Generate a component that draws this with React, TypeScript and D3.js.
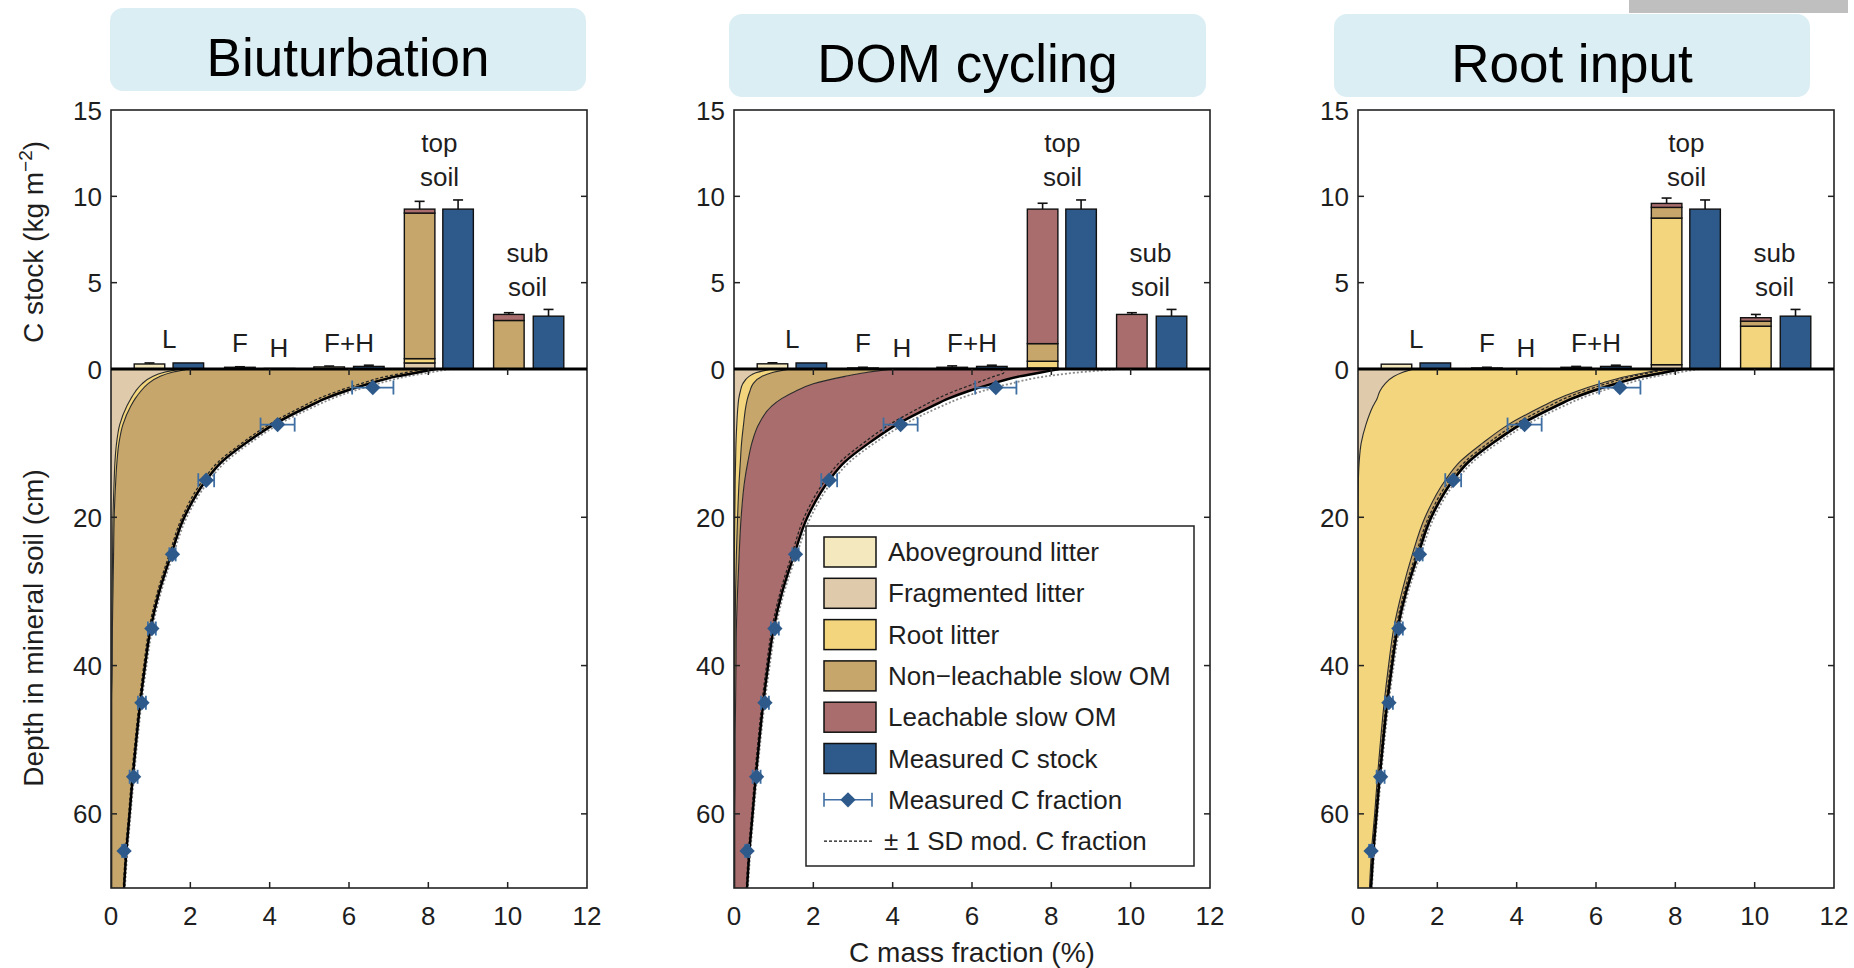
import * as d3 from 'd3'

const FONT = '"Liberation Sans", Arial, Helvetica, sans-serif'

// ---------- data ----------
const panelTitles = ['Biuturbation', 'DOM cycling', 'Root input']

const xTicks = [0, 2, 4, 6, 8, 10, 12]
const stockTicks = [0, 5, 10, 15]
const depthTicks = [20, 40, 60]

const layerNames = ['Aboveground litter', 'Fragmented litter', 'Root litter', 'Non\u2212leachable slow OM', 'Leachable slow OM']
const layerColors = ['#f4e9be', '#dfcbab', '#f2d57d', '#c6a66a', '#aa6d6d']
const measuredColor = '#2e5a8b'
const measuredErrColor = '#3f6fa3'

// bar groups (x positions in the C-mass-fraction axis units)
const barLabels = ['L', 'F', 'H', 'F+H', 'top\nsoil', 'sub\nsoil']
const barLabelX = [1.47, 3.25, 4.23, 6.0, 8.28, 10.5]
const barLabelY = [1.2, 1.0, 0.7, 1.0, 12.55, 6.2]
const modelBarX = [0.97, 3.25, 4.25, 5.5, 7.78, 10.03]
const measBarX = [1.95, NaN, NaN, 6.5, 8.75, 11.03]
const measStock = [0.35, NaN, NaN, 0.15, 9.26, 3.06]
const measStockErr = [0, NaN, NaN, 0.07, 0.53, 0.39]

// modelled stocks: [aboveground, fragmented, root, non-leachable, leachable]
const bioBars = [[0.29, 0, 0, 0, 0], [0, 0.1, 0, 0, 0], [0, 0.03, 0, 0, 0], [0, 0.12, 0, 0, 0], [0, 0.35, 0.25, 8.43, 0.23], [0, 0, 0, 2.81, 0.35]]
const bioBarErr = [0.06, 0.03, 0, 0.05, 0.45, 0.1]
const domBars = [[0.3, 0, 0, 0, 0], [0, 0.06, 0, 0, 0], [0, 0.02, 0, 0, 0], [0, 0.1, 0, 0, 0], [0, 0.06, 0.39, 1.02, 7.79], [0, 0, 0, 0, 3.16]]
const domBarErr = [0.06, 0.04, 0, 0.08, 0.34, 0.1]
const rootBars = [[0.28, 0, 0, 0, 0], [0, 0.06, 0, 0, 0], [0, 0.02, 0, 0, 0], [0, 0.1, 0, 0, 0], [0, 0.25, 8.49, 0.62, 0.23], [0, 0, 2.48, 0.29, 0.2]]
const rootBarErr = [0, 0.04, 0, 0.05, 0.31, 0.19]

// depth profiles (cm) of modelled C mass fraction (%) per pool
const depths = [0, 0.5, 1, 2, 3, 4, 5, 7.5, 10, 12.5, 15, 20, 25, 30, 35, 40, 45, 50, 55, 60, 65, 70]

const bioFrag = [1.75, 1.3, 1.05, 0.78, 0.62, 0.5, 0.4, 0.22, 0.14, 0.1, 0.08, 0.05, 0.04, 0.03, 0.02, 0.02, 0.01, 0.01, 0.01, 0.01, 0.01, 0.01]
const bioRoot = [0.22, 0.2, 0.18, 0.15, 0.13, 0.11, 0.1, 0.08, 0.06, 0.05, 0.04, 0.03, 0.025, 0.02, 0.015, 0.01, 0.01, 0.01, 0.01, 0.01, 0.01, 0.01]
const bioNonLeach = [6.15, 6.13, 5.91, 5.52, 5.1, 4.75, 4.46, 3.77, 3.17, 2.63, 2.26, 1.75, 1.445, 1.16, 0.955, 0.82, 0.71, 0.61, 0.52, 0.44, 0.36, 0.3]
const bioLeach = [0.08, 0.07, 0.06, 0.05, 0.05, 0.04, 0.04, 0.03, 0.03, 0.02, 0.02, 0.02, 0.01, 0.01, 0.01, 0.01, 0.01, 0.01, 0.01, 0.01, 0.01, 0.01]
const bioSd = [0.35, 0.3, 0.26, 0.22, 0.19, 0.17, 0.15, 0.12, 0.1, 0.09, 0.08, 0.06, 0.05, 0.045, 0.04, 0.035, 0.03, 0.03, 0.03, 0.025, 0.025, 0.02]

const domFrag = [0.95, 0.55, 0.38, 0.22, 0.16, 0.12, 0.1, 0.07, 0.05, 0.04, 0.03, 0.02, 0.01, 0.005, 0, 0, 0, 0, 0, 0, 0, 0]
const domRoot = [0.45, 0.4, 0.32, 0.26, 0.24, 0.22, 0.2, 0.17, 0.14, 0.12, 0.1, 0.07, 0.05, 0.035, 0.03, 0.02, 0.01, 0.01, 0, 0, 0, 0]
const domNonLeach = [2.6, 2.35, 2.1, 1.52, 1.15, 0.86, 0.65, 0.38, 0.26, 0.19, 0.14, 0.09, 0.07, 0.05, 0.03, 0.03, 0.03, 0.02, 0.03, 0.02, 0.02, 0.02]
const domLeach = [4.2, 4.4, 4.4, 4.5, 4.35, 4.2, 4.05, 3.48, 2.95, 2.45, 2.13, 1.67, 1.39, 1.13, 0.94, 0.81, 0.7, 0.61, 0.52, 0.45, 0.37, 0.31]
const domSd = [1.5, 0.9, 0.65, 0.45, 0.35, 0.28, 0.24, 0.18, 0.14, 0.12, 0.1, 0.08, 0.06, 0.05, 0.045, 0.04, 0.035, 0.03, 0.03, 0.025, 0.025, 0.02]

const rootFrag = [1.4, 1.1, 0.9, 0.68, 0.55, 0.48, 0.38, 0.2, 0.08, 0.03, 0.01, 0, 0, 0, 0, 0, 0, 0, 0, 0, 0, 0]
const rootRoot = [6.3, 6.13, 5.86, 5.41, 4.97, 4.56, 4.28, 3.59, 3.06, 2.54, 2.19, 1.69, 1.37, 1.11, 0.9, 0.77, 0.66, 0.57, 0.49, 0.42, 0.34, 0.29]
const rootNonLeach = [0.4, 0.38, 0.36, 0.34, 0.32, 0.3, 0.29, 0.26, 0.22, 0.19, 0.17, 0.13, 0.12, 0.09, 0.08, 0.07, 0.06, 0.05, 0.05, 0.04, 0.04, 0.03]
const rootLeach = [0.1, 0.09, 0.08, 0.07, 0.06, 0.06, 0.05, 0.05, 0.04, 0.04, 0.03, 0.03, 0.03, 0.02, 0.02, 0.02, 0.02, 0.02, 0.01, 0.01, 0.01, 0.01]
const rootSd = [0.4, 0.34, 0.3, 0.25, 0.22, 0.2, 0.18, 0.15, 0.12, 0.1, 0.09, 0.07, 0.06, 0.05, 0.045, 0.04, 0.035, 0.03, 0.03, 0.025, 0.025, 0.02]

// measured C mass fraction
const measDepth = [2.5, 7.5, 15, 25, 35, 45, 55, 65]
const measC = [6.6, 4.2, 2.4, 1.55, 1.03, 0.78, 0.57, 0.33]
const measCErr = [0.52, 0.43, 0.2, 0.08, 0.1, 0.1, 0.1, 0.05]

const panelBars = [bioBars, domBars, rootBars]
const panelBarErr = [bioBarErr, domBarErr, rootBarErr]
const panelProfiles = [
  { frag: bioFrag, root: bioRoot, nonleach: bioNonLeach, leach: bioLeach, sd: bioSd },
  { frag: domFrag, root: domRoot, nonleach: domNonLeach, leach: domLeach, sd: domSd },
  { frag: rootFrag, root: rootRoot, nonleach: rootNonLeach, leach: rootLeach, sd: rootSd },
]

// ---------- layout ----------
const W = 1854
const H = 968
const PANEL_X = [111, 734, 1358]
const PW = 476
const TOP = 110
const ZERO_Y = 369
const BOTTOM = 888
const TITLE_BOX = [
  { x: 110, y: 8, w: 476, h: 83 },
  { x: 729, y: 14, w: 477, h: 83 },
  { x: 1334, y: 14, w: 476, h: 83 },
]
const BAR_W = 0.77
const FS = 26
const INK = '#1e1e1e'

const diamond = d3.symbol((d3 as any).symbolDiamond2 ?? d3.symbolDiamond, 150)()

function Panel({ i }: { i: number }) {
  const x0 = PANEL_X[i]
  const x = d3.scaleLinear().domain([0, 12]).range([x0, x0 + PW])
  const yS = d3.scaleLinear().domain([0, 15]).range([ZERO_Y, TOP])
  const yD = d3.scaleLinear().domain([0, 70]).range([ZERO_Y, BOTTOM])
  const prof = panelProfiles[i]
  const rows = depths.map((d, k) => ({
    depth: d, frag: prof.frag[k], root: prof.root[k], nonleach: prof.nonleach[k], leach: prof.leach[k],
  }))
  const keys = ['frag', 'root', 'nonleach', 'leach']
  const series = d3.stack<any>().keys(keys)(rows)
  const area = d3.area<any>()
    .y(d => yD(d.data.depth)).x0(d => x(d[0])).x1(d => x(d[1]))
    .curve(d3.curveMonotoneY)
  const edge = d3.line<any>()
    .y(d => yD(d.data.depth)).x(d => x(d[1]))
    .curve(d3.curveMonotoneY)
  const total = rows.map(r => r.frag + r.root + r.nonleach + r.leach)
  const sdLine = (sign: number) => d3.line<number>()
    .y((_, k) => yD(depths[k])).x((t, k) => x(t + sign * prof.sd[k]))
    .curve(d3.curveMonotoneY)(total) ?? ''
  const clipId = `clip-${i}`
  const bars = panelBars[i]
  const barErr = panelBarErr[i]
  const bw = x(BAR_W) - x(0)
  const box = TITLE_BOX[i]

  return (
    <g>
      <rect x={box.x} y={box.y} width={box.w} height={box.h} rx={13} fill="#dbeef4" />
      <text x={box.x + box.w / 2} y={box.y + 68} textAnchor="middle" fontSize={53} fill="#000">{panelTitles[i]}</text>

      <defs>
        <clipPath id={clipId}>
          <rect x={x0} y={ZERO_Y} width={PW} height={BOTTOM - ZERO_Y} />
        </clipPath>
      </defs>

      {/* depth profile */}
      <g clipPath={`url(#${clipId})`}>
        {series.map((s, k) => (
          <path key={k} d={area(s) ?? ''} fill={layerColors[k + 1]} />
        ))}
        {series.slice(0, 3).map((s, k) => (
          <path key={k} d={edge(s) ?? ''} fill="none" stroke="#2a2a2a" strokeWidth={1.1} />
        ))}
        <path d={sdLine(-1)} fill="none" stroke="#222" strokeWidth={1.3} strokeDasharray="3 2" />
        <path d={sdLine(1)} fill="none" stroke="#8a8a8a" strokeWidth={1.8} strokeDasharray="2 2" />
        <path d={edge(series[3]) ?? ''} fill="none" stroke="#000" strokeWidth={2.4} />
        {measDepth.map((d, k) => {
          const cy = yD(d)
          const xl = x(measC[k] - measCErr[k])
          const xr = x(measC[k] + measCErr[k])
          return (
            <g key={k}>
              <line x1={xl} x2={xr} y1={cy} y2={cy} stroke={measuredErrColor} strokeWidth={1.8} />
              <line x1={xl} x2={xl} y1={cy - 7} y2={cy + 7} stroke={measuredErrColor} strokeWidth={1.8} />
              <line x1={xr} x2={xr} y1={cy - 7} y2={cy + 7} stroke={measuredErrColor} strokeWidth={1.8} />
              <path d={diamond ?? ''} transform={`translate(${x(measC[k])},${cy})`} fill={measuredColor} />
            </g>
          )
        })}
      </g>

      {/* stock bars */}
      {bars.map((vals, g) => {
        let acc = 0
        const segs = vals.map((v, k) => {
          const y0 = acc
          acc += v
          return { k, y0, y1: acc, v }
        }).filter(s => s.v > 0)
        const cx = x(modelBarX[g])
        const topV = acc
        return (
          <g key={g}>
            {barErr[g] > 0 && (
              <g stroke="#111" strokeWidth={1.6}>
                <line x1={cx} x2={cx} y1={yS(topV)} y2={yS(topV + barErr[g])} />
                <line x1={cx - 5} x2={cx + 5} y1={yS(topV + barErr[g])} y2={yS(topV + barErr[g])} />
              </g>
            )}
            {segs.map(s => (
              <rect key={s.k} x={cx - bw / 2} width={bw} y={yS(s.y1)} height={yS(s.y0) - yS(s.y1)}
                fill={layerColors[s.k]} stroke="#111" strokeWidth={1.4} />
            ))}
          </g>
        )
      })}
      {measStock.map((v, g) => {
        if (Number.isNaN(v)) return null
        const cx = x(measBarX[g])
        return (
          <g key={g}>
            {measStockErr[g] > 0 && (
              <g stroke="#111" strokeWidth={1.6}>
                <line x1={cx} x2={cx} y1={yS(v)} y2={yS(v + measStockErr[g])} />
                <line x1={cx - 5} x2={cx + 5} y1={yS(v + measStockErr[g])} y2={yS(v + measStockErr[g])} />
              </g>
            )}
            <rect x={cx - bw / 2} width={bw} y={yS(v)} height={yS(0) - yS(v)} fill={measuredColor} stroke="#111" strokeWidth={1.4} />
          </g>
        )
      })}
      {barLabels.map((lab, g) => {
        const parts = lab.split('\n')
        return (
          <text key={g} x={x(barLabelX[g])} y={yS(barLabelY[g])} textAnchor="middle" fontSize={FS} fill={INK}>
            {parts.map((p, k) => (
              <tspan key={k} x={x(barLabelX[g])} dy={k === 0 ? 0 : 34}>{p}</tspan>
            ))}
          </text>
        )
      })}

      {/* frame, zero line and ticks */}
      <rect x={x0} y={TOP} width={PW} height={BOTTOM - TOP} fill="none" stroke="#222" strokeWidth={1.6} />
      <line x1={x0} x2={x0 + PW} y1={ZERO_Y} y2={ZERO_Y} stroke="#000" strokeWidth={3} />
      {xTicks.slice(1, -1).map(t => (
        <g key={t} stroke="#222" strokeWidth={1.5}>
          <line x1={x(t)} x2={x(t)} y1={BOTTOM} y2={BOTTOM - 6} />
          <line x1={x(t)} x2={x(t)} y1={ZERO_Y} y2={ZERO_Y + 6} />
        </g>
      ))}
      {stockTicks.slice(1, -1).map(t => (
        <g key={t} stroke="#222" strokeWidth={1.5}>
          <line x1={x0} x2={x0 + 6} y1={yS(t)} y2={yS(t)} />
          <line x1={x0 + PW} x2={x0 + PW - 6} y1={yS(t)} y2={yS(t)} />
        </g>
      ))}
      {depthTicks.map(t => (
        <g key={t} stroke="#222" strokeWidth={1.5}>
          <line x1={x0} x2={x0 + 6} y1={yD(t)} y2={yD(t)} />
          <line x1={x0 + PW} x2={x0 + PW - 6} y1={yD(t)} y2={yD(t)} />
        </g>
      ))}

      {/* tick labels */}
      {stockTicks.map(t => (
        <text key={t} x={x0 - 9} y={yS(t) + 9.5} textAnchor="end" fontSize={FS} fill={INK}>{t}</text>
      ))}
      {depthTicks.map(t => (
        <text key={t} x={x0 - 9} y={yD(t) + 9.5} textAnchor="end" fontSize={FS} fill={INK}>{t}</text>
      ))}
      {xTicks.map(t => (
        <text key={t} x={x(t)} y={BOTTOM + 37} textAnchor="middle" fontSize={FS} fill={INK}>{t}</text>
      ))}
    </g>
  )
}

function Legend() {
  const lx = 806
  const ly = 526
  const rowY = (k: number) => ly + 26 + k * 41.3
  const sx = 824
  const tx = 888
  return (
    <g>
      <rect x={lx} y={ly} width={388} height={340} fill="#fff" stroke="#222" strokeWidth={1.5} />
      {layerNames.map((n, k) => (
        <g key={n}>
          <rect x={sx} y={rowY(k) - 15} width={52} height={30} fill={layerColors[k]} stroke="#111" strokeWidth={1.5} />
          <text x={tx} y={rowY(k) + 9} fontSize={FS} fill={INK}>{n}</text>
        </g>
      ))}
      <rect x={sx} y={rowY(5) - 15} width={52} height={30} fill={measuredColor} stroke="#111" strokeWidth={1.5} />
      <text x={tx} y={rowY(5) + 9} fontSize={FS} fill={INK}>Measured C stock</text>
      <g stroke={measuredErrColor} strokeWidth={1.6}>
        <line x1={sx} x2={sx + 48} y1={rowY(6)} y2={rowY(6)} />
        <line x1={sx} x2={sx} y1={rowY(6) - 7} y2={rowY(6) + 7} />
        <line x1={sx + 48} x2={sx + 48} y1={rowY(6) - 7} y2={rowY(6) + 7} />
      </g>
      <path d={diamond ?? ''} transform={`translate(${sx + 24},${rowY(6)})`} fill={measuredColor} />
      <text x={tx} y={rowY(6) + 9} fontSize={FS} fill={INK}>Measured C fraction</text>
      <line x1={sx} x2={sx + 50} y1={rowY(7)} y2={rowY(7)} stroke="#111" strokeWidth={1.3} strokeDasharray="3 2" />
      <text x={tx - 4} y={rowY(7) + 9} fontSize={FS} fill={INK}>{'\u00b1 1 SD mod. C fraction'}</text>
    </g>
  )
}

export default function App() {
  return (
    <div style={{ position: 'absolute', left: 0, top: 0, width: W, height: H, background: '#fff' }}>
      <svg width={W} height={H} style={{ display: 'block', fontFamily: FONT }}>
        <rect x={0} y={0} width={W} height={H} fill="#fff" />
        <rect x={1629} y={0} width={219} height={13} fill="#bfbfbf" />
        {panelTitles.map((_, i) => <Panel key={i} i={i} />)}
        <text transform={`translate(43,242) rotate(-90)`} textAnchor="middle" fontSize={28} fill={INK}>
          C stock (kg m<tspan dy={-11} fontSize={19}>{'\u2212'}2</tspan><tspan dy={11}>)</tspan>
        </text>
        <text transform={`translate(43,628) rotate(-90)`} textAnchor="middle" fontSize={28} fill={INK}>
          Depth in mineral soil (cm)
        </text>
        <text x={972} y={962} textAnchor="middle" fontSize={28} fill={INK}>C mass fraction (%)</text>
        <Legend />
      </svg>
    </div>
  )
}
